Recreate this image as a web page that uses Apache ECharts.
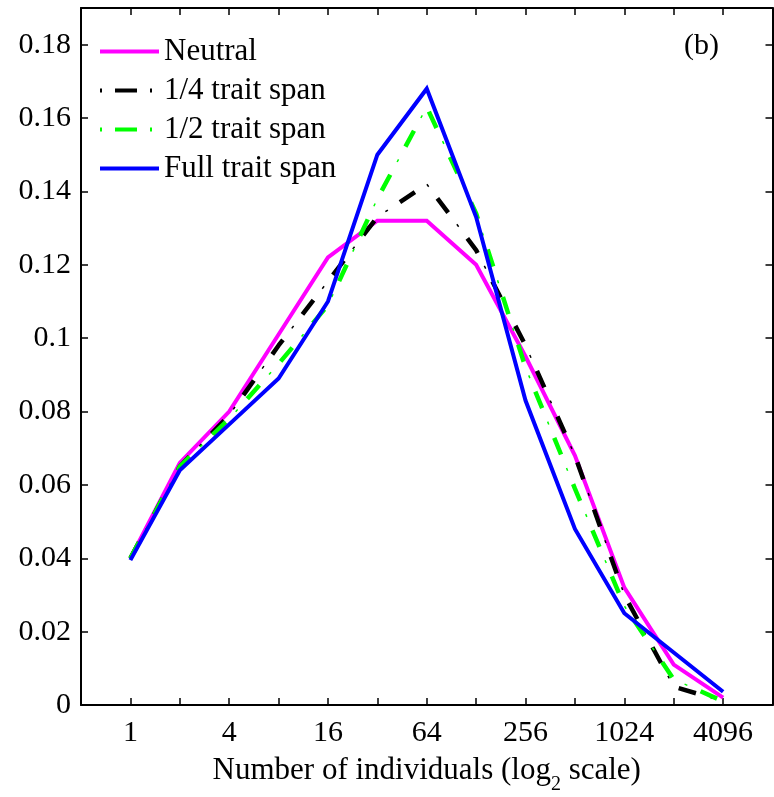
<!DOCTYPE html>
<html>
<head>
<meta charset="utf-8">
<script src="https://cdn.jsdelivr.net/npm/echarts@6/dist/echarts.min.js"></script>
<style>
html,body{margin:0;padding:0;background:#fff;}
#chart{width:774px;height:797px;}
</style>
</head>
<body>
<div id="chart"></div>
<script>
// x positions: log2 of number of individuals (1, 2, 4, ... 4096)
const log2Individuals = [0, 1, 2, 3, 4, 5, 6, 7, 8, 9, 10, 11, 12];
const neutral      = [0.040, 0.066, 0.080, 0.101, 0.122, 0.132, 0.132, 0.120, 0.095, 0.068, 0.032, 0.011, 0.002];
const quarterSpan  = [0.040, 0.065, 0.079, 0.098, 0.1155, 0.133, 0.142, 0.124, 0.098, 0.068, 0.030, 0.005, 0.001];
const halfSpan     = [0.040, 0.065, 0.078, 0.093, 0.109, 0.138, 0.163, 0.134, 0.092, 0.059, 0.027, 0.007, 0.001];
const fullSpan     = [0.0395, 0.064, 0.0765, 0.089, 0.110, 0.150, 0.168, 0.133, 0.083, 0.048, 0.025, 0.0143, 0.0036];
const seriesNames  = ['Neutral', '1/4 trait span', '1/2 trait span', 'Full trait span'];
const xLabelExponents = [0, 2, 4, 6, 8, 10, 12];
const yTickLabels = ['0', '0.02', '0.04', '0.06', '0.08', '0.1', '0.12', '0.14', '0.16', '0.18'];

const FONT = 'Liberation Serif';
const pts = arr => log2Individuals.map((x, i) => [x, arr[i]]);

const chart = echarts.init(document.getElementById('chart'), null, {renderer: 'canvas'});

const xAxisBase = {
  type: 'value', min: -1, max: 13, interval: 1,
  axisLine: {show: true, onZero: false, lineStyle: {color: '#000', width: 2}},
  axisTick: {show: true, inside: true, length: 7, lineStyle: {color: '#000', width: 1.5}},
  splitLine: {show: false}
};
const yAxisBase = {
  type: 'value', min: 0, max: 0.19, interval: 0.02,
  axisLine: {show: true, onZero: false, lineStyle: {color: '#000', width: 2}},
  axisTick: {show: true, inside: true, length: 7, lineStyle: {color: '#000', width: 1.5}},
  splitLine: {show: false}
};

function yLabel(v) {
  const k = Math.round(v / 0.02);
  if (Math.abs(v / 0.02 - k) > 1e-6) return '';
  return yTickLabels[k] !== undefined ? yTickLabels[k] : '';
}
function xLabel(v) {
  return xLabelExponents.indexOf(v) >= 0 ? String(Math.pow(2, v)) : '';
}

const dashDotIcon = {type: [2, 13, 22, 13], width: 4, cap: 'butt'};

const option = {
  animation: false,
  backgroundColor: '#fff',
  grid: {left: 81, right: 1.5, top: 8, bottom: 92, containLabel: false, outerBoundsMode: 'none'},
  xAxis: [
    Object.assign({}, xAxisBase, {
      position: 'bottom',
      axisLabel: {show: true, formatter: xLabel, color: '#000', fontFamily: FONT, fontSize: 30, margin: 13},
      name: 'Number of individuals (log{sub|2} scale)',
      nameLocation: 'middle', nameGap: 45,
      nameTextStyle: {color: '#000', fontFamily: FONT, fontSize: 31, lineHeight: 36,
        rich: {sub: {fontFamily: FONT, fontSize: 20, lineHeight: 20, verticalAlign: 'bottom', color: '#000', padding: [0, 0, -6, 0]}}}
    }),
    Object.assign({}, xAxisBase, {position: 'top', axisLabel: {show: false}})
  ],
  yAxis: [
    Object.assign({}, yAxisBase, {
      position: 'left',
      axisLabel: {show: true, formatter: yLabel, color: '#000', fontFamily: FONT, fontSize: 30, margin: 10}
    }),
    Object.assign({}, yAxisBase, {position: 'right', axisLabel: {show: false}})
  ],
  legend: {
    orient: 'vertical', left: 98, top: 36, padding: 0,
    itemWidth: 59, itemHeight: 20, itemGap: 8,
    itemStyle: {opacity: 0},
    lineStyle: {width: 4},
    textStyle: {fontFamily: FONT, fontSize: 31, color: '#000', lineHeight: 30},
    data: [
      {name: seriesNames[0]},
      {name: seriesNames[1], lineStyle: dashDotIcon},
      {name: seriesNames[2], lineStyle: dashDotIcon},
      {name: seriesNames[3]}
    ]
  },
  graphic: [{
    type: 'text', left: 684, top: 31,
    style: {text: '(b)', fontFamily: FONT, fontSize: 30, fill: '#000'}
  }],
  series: [
    {name: seriesNames[0], type: 'line', data: pts(neutral), symbol: 'none',
     lineStyle: {color: '#ff00ff', width: 4, join: 'miter'}, itemStyle: {color: '#ff00ff'}, z: 2},
    {name: seriesNames[1], type: 'line', data: pts(quarterSpan), symbol: 'none',
     lineStyle: {color: '#000', width: 4.5, type: [18, 32], cap: 'butt'}, itemStyle: {color: '#000'}, z: 3},
    {name: seriesNames[1], type: 'line', data: pts(quarterSpan), symbol: 'none',
     lineStyle: {color: '#000', width: 1.5, type: [3, 47], dashOffset: 17.5, cap: 'butt'}, itemStyle: {color: '#000'}, z: 3},
    {name: seriesNames[2], type: 'line', data: pts(halfSpan), symbol: 'none',
     lineStyle: {color: '#00ff00', width: 4.5, type: [18, 32], cap: 'butt'}, itemStyle: {color: '#00ff00'}, z: 4},
    {name: seriesNames[2], type: 'line', data: pts(halfSpan), symbol: 'none',
     lineStyle: {color: '#00ff00', width: 1.5, type: [3, 47], dashOffset: 17.5, cap: 'butt'}, itemStyle: {color: '#00ff00'}, z: 4},
    {name: seriesNames[3], type: 'line', data: pts(fullSpan), symbol: 'none',
     lineStyle: {color: '#0000ff', width: 4, join: 'miter'}, itemStyle: {color: '#0000ff'}, z: 5}
  ]
};
chart.setOption(option);
</script>
</body>
</html>
